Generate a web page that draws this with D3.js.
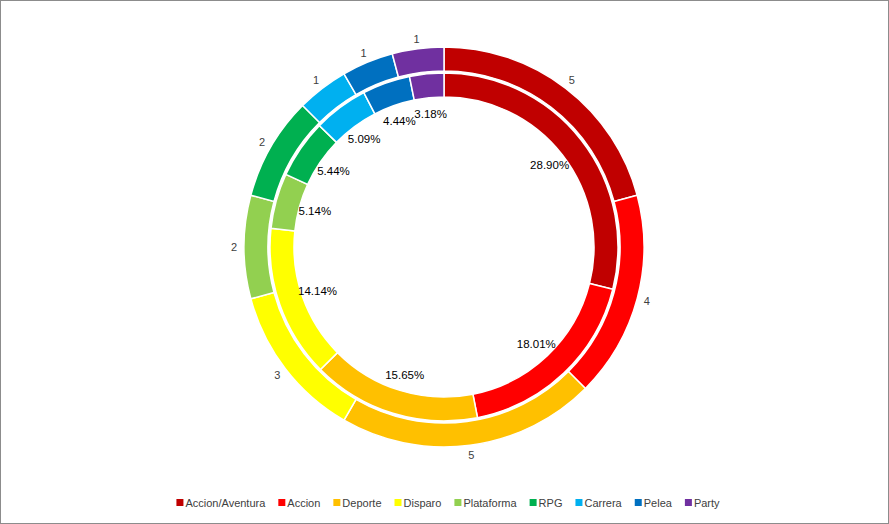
<!DOCTYPE html>
<meta charset="utf-8">
<html>
<head>
  <script src="https://d3js.org/d3.v7.min.js" charset="utf-8"></script>
</head>
<style>
* { font-family: "Liberation Sans", Arial, sans-serif; }
body { margin: 0; background-color: white; }
.count { fill: #404040; font-size: 11px; text-anchor: middle; }
.pct { fill: #000; font-size: 11.5px; text-anchor: middle; }
.legend text { fill: #404040; font-size: 11px; }
</style>
<body>
<div id="container"></div>
<script type="text/javascript">

// data
var categories = ["Accion/Aventura", "Accion", "Deporte", "Disparo", "Plataforma", "RPG", "Carrera", "Pelea", "Party"];
var counts = [5, 4, 5, 3, 2, 2, 1, 1, 1];
var percents = [28.90, 18.01, 15.65, 14.14, 5.14, 5.44, 5.09, 4.44, 3.18];
var colors = ["#C00000", "#FF0000", "#FFC000", "#FFFF00", "#92D050", "#00B050", "#00B0F0", "#0070C0", "#7030A0"];

var width = 889;
var height = 524;
var cx = 444, cy = 247;

const svg = d3.select("#container")
              .append("svg")
              .attr("width", width)
              .attr("height", height)

svg.append("rect")
   .attr("x", 0.5).attr("y", 0.5)
   .attr("width", width - 1).attr("height", height - 1)
   .attr("fill", "white")
   .attr("stroke", "#8c8c8c")

var g = svg.append("g").attr("transform", "translate(" + cx + "," + cy + ")")

var pie = d3.pie().sort(null).value((d) => d)

var outerArc = d3.arc().innerRadius(176).outerRadius(200)
var innerArc = d3.arc().innerRadius(150).outerRadius(174)

var outerData = pie(counts)
var innerData = pie(percents)

g.selectAll(".outer")
 .data(outerData)
 .enter()
 .append("path")
 .attr("class", "outer")
 .attr("d", outerArc)
 .attr("fill", (d, i) => colors[i])
 .attr("stroke", "white")
 .attr("stroke-width", 1.5)

g.selectAll(".inner")
 .data(innerData)
 .enter()
 .append("path")
 .attr("class", "inner")
 .attr("d", innerArc)
 .attr("fill", (d, i) => colors[i])
 .attr("stroke", "white")
 .attr("stroke-width", 1.5)

// white ring between the two doughnuts
g.append("circle").attr("r", 175).attr("fill", "none").attr("stroke", "white").attr("stroke-width", 2)

function polar(a, r) {
    return [Math.sin(a) * r, -Math.cos(a) * r]
}

g.selectAll(".count")
 .data(outerData)
 .enter()
 .append("text")
 .attr("class", "count")
 .attr("x", (d) => polar((d.startAngle + d.endAngle) / 2, 210)[0])
 .attr("y", (d) => polar((d.startAngle + d.endAngle) / 2, 210)[1])
 .attr("dy", "0.35em")
 .text((d) => d.data)

g.selectAll(".pct")
 .data(innerData)
 .enter()
 .append("text")
 .attr("class", "pct")
 .attr("x", (d) => polar((d.startAngle + d.endAngle) / 2, 134)[0])
 .attr("y", (d) => polar((d.startAngle + d.endAngle) / 2, 134)[1])
 .attr("dy", "0.35em")
 .text((d) => d.data.toFixed(2) + "%")

// legend
var legend = svg.append("g").attr("class", "legend")
var lx = 0
categories.forEach(function(c, i) {
    var item = legend.append("g").attr("transform", "translate(" + lx + ",0)")
    item.append("rect").attr("x", 0).attr("y", -4).attr("width", 7).attr("height", 7).attr("fill", colors[i])
    var t = item.append("text").attr("x", 9).attr("y", 0).attr("dy", "0.35em").text(c)
    lx += 9 + t.node().getComputedTextLength() + 13
})
var total = lx - 13
legend.attr("transform", "translate(" + (448 - total / 2) + ",503)")

</script>
</body>
</html>
